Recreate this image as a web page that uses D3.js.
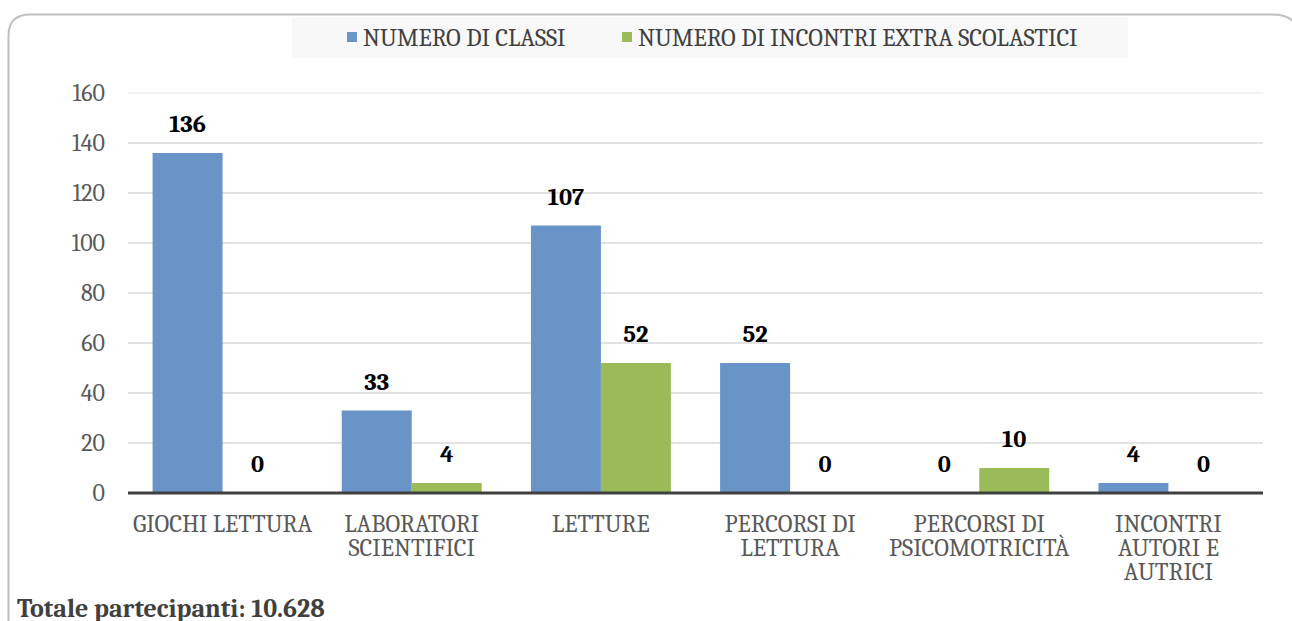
<!DOCTYPE html>
<html><head><meta charset="utf-8">
<script src="https://cdn.jsdelivr.net/npm/d3@7/dist/d3.min.js"></script>
<style>body{margin:0;background:#fff}svg{display:block}</style>
</head><body><svg id="c" width="1292" height="621"></svg>
<script>
const categories = [["GIOCHI LETTURA"],["LABORATORI","SCIENTIFICI"],["LETTURE"],["PERCORSI DI","LETTURA"],["PERCORSI DI","PSICOMOTRICITÀ"],["INCONTRI","AUTORI E","AUTRICI"]];
const seriesNames = ["NUMERO DI CLASSI","NUMERO DI INCONTRI EXTRA SCOLASTICI"];
const classi = [136,33,107,52,0,4];
const incontri = [0,4,52,0,10,0];
const yTicks = [0,20,40,60,80,100,120,140,160];
const colors = ["#6994c8","#9bbb59"];
const footer = "Totale partecipanti: 10.628";
const FONT = '"Cambria","Caladea","Liberation Serif",serif';

const svg = d3.select("#c");
// border
svg.append("path").attr("d","M8.5,640 L8.5,36 Q8.5,14.5 30,14.5 L1272,14.5 Q1300,14.5 1300,40")
  .attr("fill","none").attr("stroke","#bfbfbf").attr("stroke-width",2);

const L=128,R=1263,T=93,B=493;
const x0 = d3.scaleBand().domain(d3.range(categories.length)).range([L,R]).paddingInner(0).paddingOuter(0);
const y = d3.scaleLinear().domain([0,160]).range([B,T]);
const bw = 70;

// grid
svg.append("g").selectAll("line").data(yTicks.filter(d=>d>0)).join("line")
  .attr("x1",L).attr("x2",R).attr("y1",d=>y(d)).attr("y2",d=>y(d))
  .attr("stroke",d=>d===160?"#ececec":"#d9d9d9").attr("stroke-width",1.5);

// y axis
const ya = svg.append("g").attr("transform",`translate(${L},0)`)
  .call(d3.axisLeft(y).tickValues(yTicks).tickSize(0).tickPadding(23));
ya.select(".domain").remove();
ya.attr("font-family",null);
ya.selectAll("text").style("font-family",FONT).attr("font-size",24).attr("fill","#595959");

const data = [classi, incontri];
data.forEach((vals,s)=>{
  const g = svg.append("g");
  g.selectAll("rect").data(vals).join("rect")
    .attr("x",(d,i)=>x0(i)+x0.bandwidth()/2 - bw + s*bw)
    .attr("width",bw)
    .attr("y",d=>y(d)).attr("height",d=>B-y(d))
    .attr("fill",colors[s]);
  g.selectAll("text").data(vals).join("text")
    .attr("x",(d,i)=>x0(i)+x0.bandwidth()/2 - bw/2 + s*bw)
    .attr("y",d=>y(d)-21)
    .attr("text-anchor","middle").style("font-family",FONT).attr("font-size",24.5).attr("font-weight","bold").attr("fill","#000")
    .text(d=>d);
});

// zero axis
svg.append("line").attr("x1",L).attr("x2",R).attr("y1",B).attr("y2",B).attr("stroke","#404040").attr("stroke-width",3);

// x labels
const xl = svg.append("g").selectAll("text").data(categories).join("text")
  .attr("x",(d,i)=>x0(i)+x0.bandwidth()/2).attr("y",532)
  .attr("text-anchor","middle").style("font-family",FONT).attr("font-size",24.5).attr("fill","#595959");
xl.selectAll("tspan").data(d=>d).join("tspan")
  .attr("x",function(){return this.parentNode.getAttribute("x");})
  .attr("dy",(d,i)=>i===0?0:24).text(d=>d);

// legend
svg.append("rect").attr("x",292).attr("y",17).attr("width",836).attr("height",41).attr("fill","#f8f8f8");
const lx=[347,622];
seriesNames.forEach((n,i)=>{
  svg.append("rect").attr("x",lx[i]).attr("y",32).attr("width",10).attr("height",10).attr("fill",colors[i]);
  svg.append("text").attr("x",lx[i]+16).attr("y",46).style("font-family",FONT).attr("font-size",24.5).attr("fill","#404040").text(n);
});

svg.append("text").attr("x",17).attr("y",617).style("font-family",FONT).attr("font-size",26).attr("font-weight","bold").attr("fill","#404040").text(footer);
</script></body></html>
